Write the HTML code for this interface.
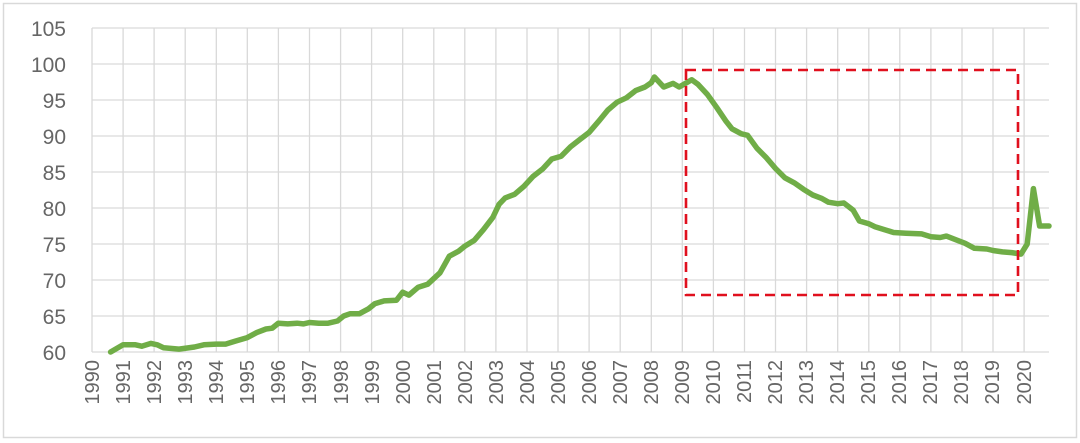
<!DOCTYPE html>
<html><head><meta charset="utf-8"><style>
html,body{margin:0;padding:0;background:#fff;}
svg{display:block;font-family:"Liberation Sans",sans-serif;}
.yl{font-size:21px;fill:#666;text-anchor:end;}
.xl{font-size:20px;fill:#666;text-anchor:end;}
</style></head><body>
<svg id="s" width="1080" height="443" viewBox="0 0 1080 443">
<rect x="3.5" y="3.5" width="1073" height="434" fill="#fff" stroke="#d9d9d9" stroke-width="1.5"/>
<g id="grid" stroke="#d9d9d9" stroke-width="1.3"></g>
<g>
<text class="yl" x="66" y="36">105</text>
<text class="yl" x="66" y="72">100</text>
<text class="yl" x="66" y="108">95</text>
<text class="yl" x="66" y="144">90</text>
<text class="yl" x="66" y="180">85</text>
<text class="yl" x="66" y="216">80</text>
<text class="yl" x="66" y="252">75</text>
<text class="yl" x="66" y="288">70</text>
<text class="yl" x="66" y="324">65</text>
<text class="yl" x="66" y="360">60</text>
</g>
<g id="xg">
<text class="xl" transform="translate(99,360) rotate(-90)">1990</text>
<text class="xl" transform="translate(130,360) rotate(-90)">1991</text>
<text class="xl" transform="translate(161,360) rotate(-90)">1992</text>
<text class="xl" transform="translate(192,360) rotate(-90)">1993</text>
<text class="xl" transform="translate(223,360) rotate(-90)">1994</text>
<text class="xl" transform="translate(254,360) rotate(-90)">1995</text>
<text class="xl" transform="translate(285,360) rotate(-90)">1996</text>
<text class="xl" transform="translate(316,360) rotate(-90)">1997</text>
<text class="xl" transform="translate(348,360) rotate(-90)">1998</text>
<text class="xl" transform="translate(379,360) rotate(-90)">1999</text>
<text class="xl" transform="translate(410,360) rotate(-90)">2000</text>
<text class="xl" transform="translate(441,360) rotate(-90)">2001</text>
<text class="xl" transform="translate(472,360) rotate(-90)">2002</text>
<text class="xl" transform="translate(503,360) rotate(-90)">2003</text>
<text class="xl" transform="translate(534,360) rotate(-90)">2004</text>
<text class="xl" transform="translate(565,360) rotate(-90)">2005</text>
<text class="xl" transform="translate(596,360) rotate(-90)">2006</text>
<text class="xl" transform="translate(627,360) rotate(-90)">2007</text>
<text class="xl" transform="translate(658,360) rotate(-90)">2008</text>
<text class="xl" transform="translate(689,360) rotate(-90)">2009</text>
<text class="xl" transform="translate(720,360) rotate(-90)">2010</text>
<text class="xl" transform="translate(751,360) rotate(-90)">2011</text>
<text class="xl" transform="translate(782,360) rotate(-90)">2012</text>
<text class="xl" transform="translate(813,360) rotate(-90)">2013</text>
<text class="xl" transform="translate(844,360) rotate(-90)">2014</text>
<text class="xl" transform="translate(875,360) rotate(-90)">2015</text>
<text class="xl" transform="translate(906,360) rotate(-90)">2016</text>
<text class="xl" transform="translate(937,360) rotate(-90)">2017</text>
<text class="xl" transform="translate(968,360) rotate(-90)">2018</text>
<text class="xl" transform="translate(999,360) rotate(-90)">2019</text>
<text class="xl" transform="translate(1031,360) rotate(-90)">2020</text>
</g>
<path id="line" fill="none" stroke="#70ad47" stroke-width="5.5" stroke-linejoin="round" stroke-linecap="round"/>
<rect x="686" y="70" width="332" height="225" fill="none" stroke="#e0101e" stroke-width="2.6" stroke-dasharray="10,6"/>
</svg>
<script>
var X=function(t){return 92+31.07*(t-1990)},Y=function(v){return 352-7.2*(v-60)};
var g=document.getElementById('grid'),h='';
for(var i=0;i<10;i++){var y=352-36*i;h+='<line x1="92" x2="1049" y1="'+y+'" y2="'+y+'"/>';}
for(var i=0;i<=30;i++){var x=X(1990+i).toFixed(1);h+='<line x1="'+x+'" x2="'+x+'" y1="28" y2="352"/>';}
g.innerHTML=h;
var d=[1990.6,60,1991,61,1991.4,61,1991.6,60.8,1991.9,61.2,1992.1,61,1992.3,60.6,1992.8,60.4,1993.3,60.7,1993.6,61,1994,61.1,1994.3,61.1,1994.6,61.5,1995,62,1995.3,62.7,1995.6,63.2,1995.8,63.3,1996,64,1996.3,63.9,1996.6,64,1996.8,63.9,1997,64.1,1997.3,64,1997.6,64,1997.9,64.3,1998.1,65,1998.3,65.3,1998.6,65.3,1998.9,66,1999.1,66.7,1999.4,67.1,1999.8,67.2,2000,68.3,2000.2,67.9,2000.5,69,2000.8,69.4,2001.2,71,2001.5,73.3,2001.8,74,2002,74.7,2002.3,75.5,2002.6,77,2002.9,78.7,2003.1,80.5,2003.3,81.4,2003.6,81.9,2003.9,83,2004.2,84.4,2004.5,85.4,2004.8,86.8,2005.1,87.2,2005.4,88.5,2005.7,89.5,2006,90.5,2006.3,92,2006.6,93.6,2006.9,94.7,2007.2,95.3,2007.5,96.3,2007.8,96.8,2008,97.4,2008.1,98.2,2008.4,96.8,2008.7,97.3,2008.9,96.8,2009.3,97.8,2009.5,97.2,2009.8,95.8,2010.1,94,2010.4,92.1,2010.6,91,2010.9,90.3,2011.1,90.1,2011.4,88.3,2011.7,87,2012,85.5,2012.3,84.2,2012.6,83.5,2012.9,82.6,2013.2,81.8,2013.5,81.3,2013.7,80.8,2014,80.6,2014.2,80.7,2014.5,79.7,2014.7,78.2,2015,77.8,2015.2,77.4,2015.5,77,2015.8,76.6,2016.2,76.5,2016.7,76.4,2017,76,2017.3,75.9,2017.5,76.1,2017.8,75.6,2018.1,75.1,2018.4,74.4,2018.8,74.3,2019,74.1,2019.3,73.9,2019.6,73.8,2019.9,73.6,2020.1,75,2020.3,82.7,2020.5,77.5,2020.8,77.5];
var p='';for(var i=0;i<d.length;i+=2){p+=(i?'L':'M')+X(d[i]).toFixed(1)+','+Y(d[i+1]).toFixed(1);}
document.getElementById('line').setAttribute('d',p);
</script>
</body></html>
